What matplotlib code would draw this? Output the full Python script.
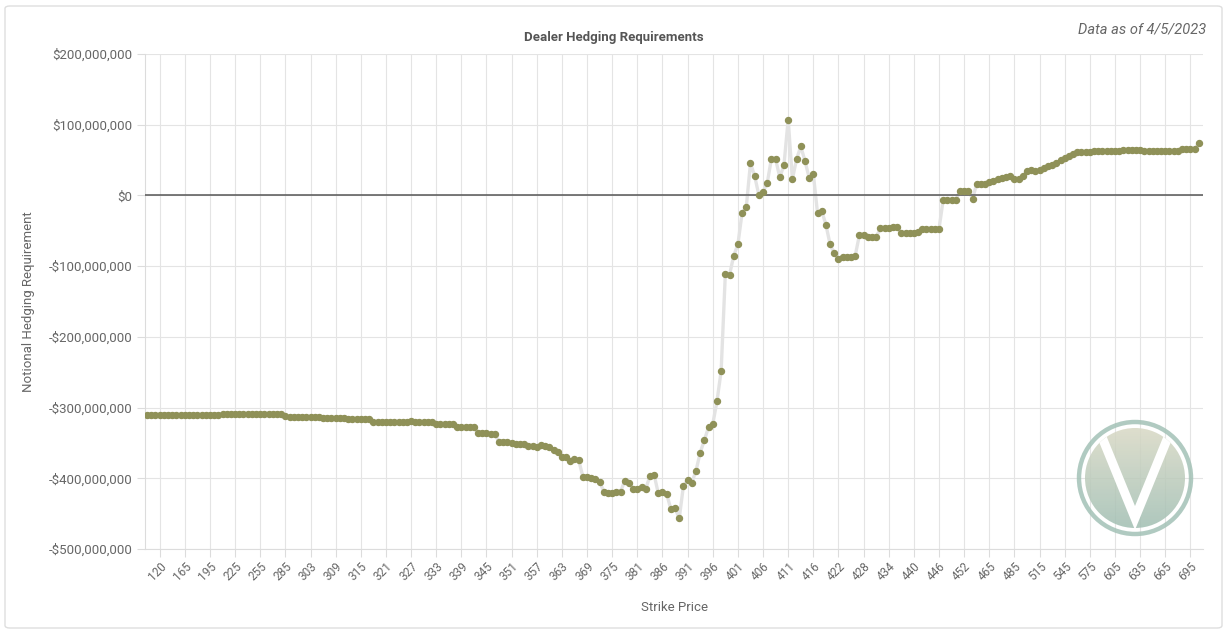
import numpy as np
import matplotlib
matplotlib.use("Agg")
import matplotlib.pyplot as plt
from matplotlib.patches import Circle, FancyBboxPatch
from matplotlib.ticker import FuncFormatter
from matplotlib.transforms import ScaledTranslation

plt.rcParams['font.family'] = ['Roboto', 'DejaVu Sans']

# strike categories (every 6th one gets a label)
strikes = [
    100, 110, 115, 120, 125, 130, 140, 150, 160, 165,
    170, 175, 180, 185, 190, 195, 200, 205, 210, 215,
    220, 225, 230, 235, 240, 245, 250, 255, 260, 265,
    270, 275, 280, 285, 290, 295, 300, 301, 302, 303,
    304, 305, 306, 307, 308, 309, 310, 311, 312, 313,
    314, 315, 316, 317, 318, 319, 320, 321, 322, 323,
    324, 325, 326, 327, 328, 329, 330, 331, 332, 333,
    334, 335, 336, 337, 338, 339, 340, 341, 342, 343,
    344, 345, 346, 347, 348, 349, 350, 351, 352, 353,
    354, 355, 356, 357, 358, 359, 360, 361, 362, 363,
    364, 365, 366, 367, 368, 369, 370, 371, 372, 373,
    374, 375, 376, 377, 378, 379, 380, 381, 382, 383,
    384, 385, 385.5, 386, 387, 388, 389, 390, 390.5, 391,
    392, 393, 394, 395, 395.5, 396, 397, 398, 399, 400,
    400.5, 401, 402, 403, 404, 405, 405.5, 406, 407, 408,
    409, 410, 410.5, 411, 412, 413, 414, 415, 415.5, 416,
    417, 418, 419, 420, 421, 422, 423, 424, 425, 426,
    427, 428, 429, 430, 431, 432, 433, 434, 435, 436,
    437, 438, 439, 440, 441, 442, 443, 444, 445, 446,
    447, 448, 449, 450, 451, 452, 453, 454, 455, 457,
    460, 465, 467, 470, 472, 475, 480, 485, 490, 495,
    500, 505, 510, 515, 520, 525, 530, 535, 540, 545,
    550, 555, 560, 565, 570, 575, 580, 585, 590, 595,
    600, 605, 610, 615, 620, 625, 630, 635, 640, 645,
    650, 655, 660, 665, 670, 675, 680, 685, 690, 695,
    700, 705,
]

# notional hedging requirement, millions of dollars
hedging_m = [
    -310, -310, -310, -310, -310, -310, -310, -310, -310, -310,
    -310, -310, -310, -310, -310, -310, -310, -310, -309, -309,
    -309, -309, -309, -309, -309, -308.5, -308.5, -308.5, -308.5, -308.5,
    -308.5, -309, -309, -312.5, -313.5, -313.5, -313.5, -313.5, -313.5, -313.5,
    -313.5, -314, -314.5, -314.5, -314.5, -314.5, -314.5, -315, -316.3, -316.3,
    -316.3, -316.3, -316.3, -316.5, -320, -320, -320, -320, -320, -320,
    -320, -320, -320, -318.7, -321, -321, -321, -321, -321, -323.4,
    -323.4, -323.4, -323.4, -323.4, -327, -327.1, -327.1, -327.1, -327.1, -336.5,
    -336.5, -336.5, -337, -338, -348.3, -348.3, -348.3, -350.6, -351, -351.5,
    -352, -354.4, -354.4, -356.3, -353.5, -354.4, -356.3, -360, -362.4, -370.4,
    -369.5, -375.6, -373.2, -374.2, -397.7, -398.7, -400, -401, -404.8, -418.9,
    -420.3, -421.3, -418.9, -418.9, -403.4, -407.1, -415.6, -415.6, -411.8, -415.1,
    -396.8, -394.9, -421.3, -419.8, -422.2, -443.8, -442.4, -456.5, -410.9, -402.4,
    -406.2, -389.3, -363.8, -345.9, -327.5, -323.4, -291.3, -248.5, -111.1, -112.5,
    -85.2, -69.2, -24.5, -16.5, 45.6, 27.3, 0.5, 5.2, 17.4, 52.2,
    51.3, 25.4, 43.3, 107.3, 23, 51.3, 69.2, 49, 25, 30.6,
    -25, -21.7, -41.4, -69.2, -81.9, -89.9, -86.6, -86.5, -86.6, -85.2,
    -56, -56, -58.8, -58.8, -58.8, -46.6, -46.6, -46.6, -45.2, -45.2,
    -53.2, -53.2, -53, -53, -51.8, -47, -47, -47, -47, -47,
    -6.1, -6.1, -6.1, -6.1, 6.6, 6.6, 6.6, -4.7, 16.5, 16.5,
    16.5, 18.8, 20.2, 22.6, 24.5, 25.4, 27.3, 23.5, 23.5, 27.3,
    34.3, 35.3, 34.3, 36.2, 38.6, 41, 43.3, 46.1, 50.4, 53.2,
    56, 58.9, 60.8, 61.7, 61.9, 62, 62.2, 62.4, 62.6, 62.8,
    63, 63.2, 63.4, 63.6, 63.6, 63.6, 63.6, 63.6, 62.4, 62.2,
    62.2, 62.2, 62.2, 62.2, 62.2, 62.2, 62.2, 65, 65, 65,
    65, 74.4,
]

W, H = 1228, 633
fig = plt.figure(figsize=(W / 100, H / 100), dpi=100)

# light rounded frame round the whole card
fig.patches.append(FancyBboxPatch((5 / W, 5 / H), 1 - 11 / W, 1 - 11 / H,
                                  boxstyle="round,pad=0,rounding_size=0.004",
                                  transform=fig.transFigure, fill=False,
                                  ec='#dedede', lw=1))

ax = fig.add_axes([145 / W, 84 / H, 1058 / W, 495 / H])
x = np.arange(len(strikes))
ax.plot(x, hedging_m, color='#e3e3e3', lw=2.4, zorder=2)
ax.plot(x, hedging_m, 'o', color='#8f9158', mec='#8f9158', ms=4.3, zorder=4)
ax.axhline(0, color='#555555', lw=1.1, zorder=3)

ax.set_xlim(-0.5, 252)
ax.set_ylim(-500, 200)
ax.set_yticks(range(-500, 201, 100))


def money(v, pos):
    s = f"${abs(v) * 1e6:,.0f}"
    return '-' + s if v < 0 else s


ax.yaxis.set_major_formatter(FuncFormatter(money))

tick_idx = list(range(3, len(strikes), 6))
ax.set_xticks(tick_idx)
ax.set_xticklabels([f"{strikes[i]:g}" for i in tick_idx], rotation=45,
                   ha='right', rotation_mode='anchor')
shift = ScaledTranslation(-0.04, 0, fig.dpi_scale_trans)
for lab in ax.get_xticklabels():
    lab.set_transform(lab.get_transform() + shift)

ax.grid(True, color='#e4e4e4', lw=0.8)
ax.set_axisbelow(True)
for side in ['top', 'right']:
    ax.spines[side].set_visible(False)
for side in ['left', 'bottom']:
    ax.spines[side].set_color('#dcdcdc')
ax.tick_params(axis='both', color='#dcdcdc', length=6, labelcolor='#666666')
ax.tick_params(axis='y', labelsize=9.5, pad=3)
ax.tick_params(axis='x', labelsize=8.5, pad=2)

ax.set_xlabel('Strike Price', fontsize=9.5, color='#666666')
ax.xaxis.set_label_coords(0.5, -0.105)
ax.set_ylabel('Notional Hedging Requirement', fontsize=9.5, color='#666666')
ax.yaxis.set_label_coords(-0.104, 0.5)

fig.text(614 / W, 1 - 37 / H, 'Dealer Hedging Requirements', ha='center',
         va='center', fontsize=9.5, fontweight='bold', color='#555555')
fig.text(1206 / W, 1 - 30 / H, 'Data as of 4/5/2023', ha='right', va='center',
         fontsize=10.5, style='italic', color='#666666')

# watermark logo, bottom right
lg = fig.add_axes([(1135 - 65) / W, (H - 478 - 65) / H, 130 / W, 130 / H])
lg.set_xlim(-65, 65)
lg.set_ylim(-65, 65)
lg.set_aspect('equal')
lg.axis('off')
lg.patch.set_alpha(0)
lg.add_patch(Circle((0, 0), 56, fill=False, ec='#a3c1b6', lw=3.2, alpha=0.85))
disk = Circle((0, 0), 50, transform=lg.transData, fc='none', ec='none')
lg.add_patch(disk)
top = np.array([216, 216, 196]) / 255
bot = np.array([160, 190, 178]) / 255
t = np.linspace(0, 1, 100)[:, None]
grad = (top * (1 - t) + bot * t)[:, None, :].repeat(2, axis=1)
im = lg.imshow(grad, extent=[-50, 50, -50, 50], origin='upper', alpha=0.85,
               aspect='auto', zorder=1)
im.set_clip_path(disk)
vline, = lg.plot([-40, 0, 40], [58, -40, 58], color='white', lw=6.5,
                 solid_joinstyle='miter', zorder=2)
vline.set_clip_path(disk)

fig.savefig('out.png', dpi=100)
